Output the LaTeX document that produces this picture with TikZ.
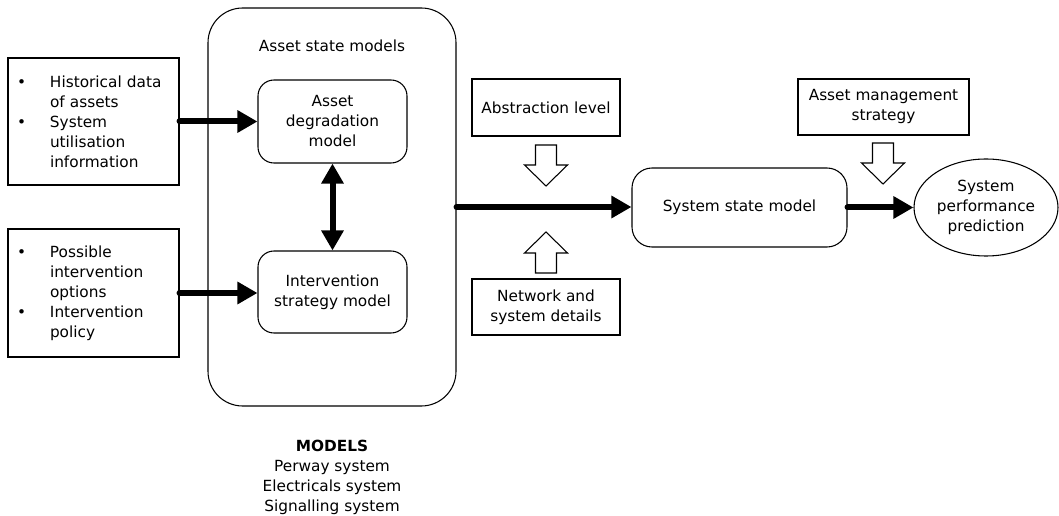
\documentclass[tikz,border=0pt]{standalone}
\usepackage{fontspec}
\setmainfont{DejaVu Sans}
\usetikzlibrary{arrows.meta,shapes.geometric}

\newcommand{\bul}{\makebox[24.75pt][l]{\textbullet}}
\newcommand{\cont}{\hspace*{24.75pt}}

\tikzset{
  box/.style={draw,line width=0.8pt,rectangle,align=center,inner sep=0pt},
  rbox/.style={box,rounded corners=12pt},
  listbox/.style={box,align=left,inner xsep=6.75pt,text width=114.75pt,minimum height=95.25pt},
  flow/.style={line width=4.5pt,line cap=round,-{Triangle[length=15pt,width=16pt]}},
  blockarr/.pic={
    \draw[line width=0.8pt,fill=white] (0,0) -- (-21.5,-21) -- (-10.5,-21) -- (-10.5,-41)
      -- (10.5,-41) -- (10.5,-21) -- (21.5,-21) -- cycle;
  }
}

\begin{document}
\begin{tikzpicture}
  [x=0.75pt,y=-0.75pt,every node/.append style={font=\fontsize{11.5}{15}\selectfont}]
  \useasboundingbox (0,0) rectangle (1059,516);

  \node[listbox] (hist) at (93.5,121.5)
    {\bul Historical data\\\cont of assets\\\bul System\\\cont utilisation\\\cont information};
  \node[listbox,minimum height=96pt] (poss) at (93.5,293)
    {\bul Possible\\\cont intervention\\\cont options\\\bul Intervention\\\cont policy};

  \node[box,rounded corners=26pt,minimum width=186pt,minimum height=298.5pt] (models) at (332,207) {};
  \node (title) at (332,46) {Asset state models};
  \node[rbox,minimum width=111.75pt,minimum height=62.25pt] (degr) at (332.5,121.5) {Asset\\degradation\\model};
  \node[rbox,minimum width=111.75pt,minimum height=61.5pt] (interv) at (332.5,292) {Intervention\\strategy model};
  \node[align=center] (systems) at (332,477)
    {\textbf{MODELS}\\Perway system\\Electricals system\\Signalling system};

  \node[box,minimum width=111pt,minimum height=42.75pt] (abst) at (546,107.5) {Abstraction level};
  \node[box,minimum width=111pt,minimum height=42pt] (netw) at (546,307) {Network and\\system details};
  \node[rbox,rounded corners=15pt,minimum width=161.25pt,minimum height=59.25pt] (sysstate) at (739.5,207.5) {System state model};
  \node[box,minimum width=128.25pt,minimum height=42pt] (ams) at (883.5,107) {Asset management\\strategy};
  \node[box,ellipse,minimum width=108pt,minimum height=72.75pt] (perf) at (986,207.5) {System\\performance\\prediction};

  \pic at (546,186) {blockarr};
  \pic[rotate=180] at (546,232) {blockarr};
  \pic at (883,184) {blockarr};

  \draw[flow] (hist.east) -- (hist.east -| degr.west);
  \draw[flow] (poss.east) -- (poss.east -| interv.west);
  \draw[flow,{Triangle[length=15pt,width=16pt]}-{Triangle[length=15pt,width=16pt]}] (degr.south) -- (interv.north);
  \draw[flow] (models.east) -- (models.east -| sysstate.west);
  \draw[flow] (sysstate.east) -- (sysstate.east -| perf.west);

\end{tikzpicture}
\end{document}
